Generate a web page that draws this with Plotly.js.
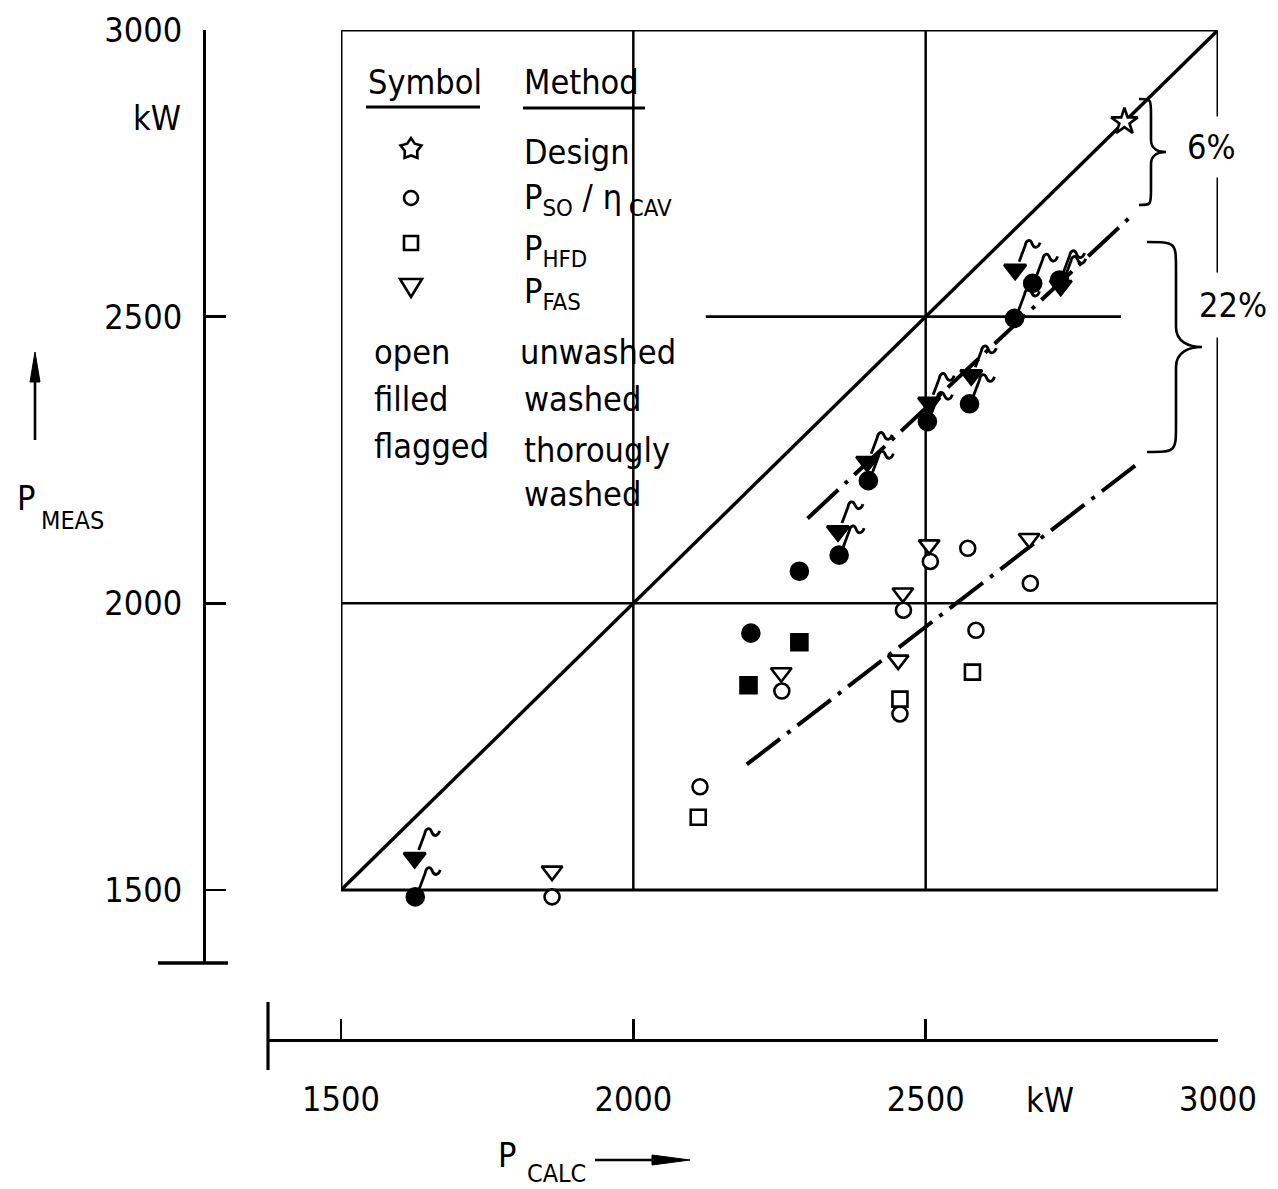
<!DOCTYPE html>
<html><head><meta charset="utf-8">
<script src="https://cdn.plot.ly/plotly-3.0.1.min.js"></script>
<style>html,body{margin:0;padding:0;background:#fff}</style>
</head><body><div id="chart" style="width:1278px;height:1189px"></div>
<script>
// ---------- data (kW) ----------
const designX = [2840], designY = [2840];
const unwashedCircleX = [1861, 2114, 2254, 2456, 2462, 2508, 2572, 2586, 2679];
const unwashedCircleY = [1488, 1680, 1847, 1807, 1988, 2073, 2096, 1953, 2035];
const unwashedSquareX = [2111, 2456, 2580];
const unwashedSquareY = [1627, 1833, 1880];
const unwashedTriX = [1861, 2253, 2453, 2461, 2506, 2677];
const unwashedTriY = [1533, 1879, 1901, 2018, 2102, 2113];
const washedCircleX = [2201, 2284];
const washedCircleY = [1948, 2056];
const washedSquareX = [2197, 2284];
const washedSquareY = [1857, 1932];
const thoroughCircleX = [1627, 2352, 2402, 2503, 2575, 2652, 2683, 2729];
const thoroughCircleY = [1488, 2084, 2214, 2317, 2348, 2497, 2558, 2564];
const thoroughTriX = [1626, 2350, 2400, 2506, 2578, 2653, 2731];
const thoroughTriY = [1556, 2126, 2247, 2350, 2398, 2582, 2554];
const parityX = [1500, 3000], parityY = [1500, 3000];
const washedTrendX = [2298, 2848], washedTrendY = [2148, 2672];
const unwashedTrendX = [2194, 2867], unwashedTrendY = [1719, 2247];
const tickVals = [1500, 2000, 2500, 3000];
const tickText = ['1500', '2000', '2500', '3000'];
const gridX = [2000, 2500];
const gridY = [2000];
const partialGridY = [2500], partialGridFrom = [2124], partialGridTo = [2834];

// ---------- layout helpers ----------
const W = 1278, H = 1189;
const px = v => v / W;
const py = v => 1 - v / H;
const F = 'DejaVu Sans Condensed, DejaVu Sans, sans-serif';
const BLACK = '#000';

const traces = [];
traces.push({x: [], y: [], xaxis: 'x2', yaxis: 'y2', type: 'scatter', hoverinfo: 'skip'});
traces.push({x: parityX, y: parityY, mode: 'lines', line: {color: BLACK, width: 3.4}, hoverinfo: 'skip'});
const dd = '42px,9px,4px,9px';
traces.push({x: washedTrendX, y: washedTrendY, mode: 'lines', line: {color: BLACK, width: 4, dash: dd}});
traces.push({x: unwashedTrendX, y: unwashedTrendY, mode: 'lines', line: {color: BLACK, width: 4, dash: dd}});

function mk(x, y, symbol, size, filled) {
  return {x: x, y: y, mode: 'markers', cliponaxis: false,
    marker: {symbol: symbol, size: size, color: filled ? BLACK : '#fff',
             line: {color: BLACK, width: 2.6}}};
}
traces.push(mk(unwashedCircleX, unwashedCircleY, 'circle', 15, false));
traces.push(mk(unwashedSquareX, unwashedSquareY, 'square', 15, false));
traces.push(mk(unwashedTriX, unwashedTriY, 'triangle-down', 18, false));
traces.push(mk(washedCircleX, washedCircleY, 'circle', 17, true));
traces.push(mk(washedSquareX, washedSquareY, 'square', 16, true));
traces.push(mk(thoroughCircleX, thoroughCircleY, 'circle', 17, true));
traces.push(mk(thoroughTriX, thoroughTriY, 'triangle-down', 19, true));
traces.push(mk(designX, designY, 'star', 20, false));

// ---------- shapes ----------
const shapes = [];
shapes.push({type: 'rect', xref: 'x', yref: 'y', x0: 1500, x1: 3000, y0: 1500, y1: 3000,
  line: {color: BLACK, width: 3}, layer: 'below'});
gridX.forEach(v => shapes.push({type: 'line', xref: 'x', yref: 'y', x0: v, x1: v, y0: 1500, y1: 3000,
  line: {color: BLACK, width: 2.5}, layer: 'below'}));
gridY.forEach(v => shapes.push({type: 'line', xref: 'x', yref: 'y', x0: 1500, x1: 3000, y0: v, y1: v,
  line: {color: BLACK, width: 2.5}, layer: 'below'}));
partialGridY.forEach((v, i) => shapes.push({type: 'line', xref: 'x', yref: 'y', x0: partialGridFrom[i],
  x1: partialGridTo[i], y0: v, y1: v, line: {color: BLACK, width: 2.6}, layer: 'below'}));

// flags for thoroughly washed points
const FLAG = 'M 4,8 L 10,24 C 11,30 15,31 17,26 C 19,21 23,21 25,27';
function flag(x, y) {
  return {type: 'path', xref: 'x', yref: 'y', xsizemode: 'pixel', ysizemode: 'pixel',
    xanchor: x, yanchor: y, path: FLAG, line: {color: BLACK, width: 2.8}};
}
thoroughCircleX.forEach((x, i) => shapes.push(flag(x, thoroughCircleY[i])));
thoroughTriX.forEach((x, i) => shapes.push(flag(x, thoroughTriY[i])));

// axis end caps
shapes.push({type: 'line', xref: 'paper', yref: 'paper', x0: px(268), x1: px(268), y0: py(1002), y1: py(1070),
  line: {color: BLACK, width: 3.2}});
shapes.push({type: 'line', xref: 'paper', yref: 'paper', x0: px(158), x1: px(228), y0: py(963), y1: py(963),
  line: {color: BLACK, width: 3.6}});

// legend underlines
shapes.push({type: 'line', xref: 'paper', yref: 'paper', x0: px(366), x1: px(480), y0: py(107), y1: py(107),
  line: {color: BLACK, width: 3}});
shapes.push({type: 'line', xref: 'paper', yref: 'paper', x0: px(523), x1: px(645), y0: py(108), y1: py(108),
  line: {color: BLACK, width: 3}});

// legend symbols / decorations in pixel units
function pixShape(cx, cy, obj) {
  return Object.assign({xref: 'paper', yref: 'paper', xsizemode: 'pixel', ysizemode: 'pixel',
    xanchor: px(cx), yanchor: py(cy), line: {color: BLACK, width: 2.6}}, obj);
}
function starPath(ro, ri) {
  let p = '';
  for (let k = 0; k < 10; k++) {
    const r = k % 2 ? ri : ro;
    const a = Math.PI / 2 + k * Math.PI / 5;
    p += (k ? ' L ' : 'M ') + (r * Math.cos(a)).toFixed(2) + ',' + (r * Math.sin(a)).toFixed(2);
  }
  return p + ' Z';
}
shapes.push(pixShape(411, 149, {type: 'path', path: starPath(11, 6.5)}));
shapes.push(pixShape(411, 198, {type: 'circle', x0: -7, x1: 7, y0: -7, y1: 7}));
shapes.push(pixShape(411, 243, {type: 'rect', x0: -7, x1: 7, y0: -7, y1: 7}));
shapes.push(pixShape(411, 287, {type: 'path', path: 'M -11,8 L 11,8 L 0,-10 Z'}));

// axis-title arrows (shaft + long narrow filled head)
shapes.push(pixShape(35, 352, {type: 'line', x0: 0, x1: 0, y0: -88, y1: -20, line: {color: BLACK, width: 2.6}}));
shapes.push(pixShape(35, 352, {type: 'path', path: 'M 0,0 L 5,-30 L -5,-30 Z', fillcolor: BLACK,
  line: {color: BLACK, width: 1}}));
shapes.push(pixShape(690, 1160, {type: 'line', x0: -95, x1: -25, y0: 0, y1: 0, line: {color: BLACK, width: 2.6}}));
shapes.push(pixShape(690, 1160, {type: 'path', path: 'M 0,0 L -38,5 L -38,-5 Z', fillcolor: BLACK,
  line: {color: BLACK, width: 1}}));

// braces
function brace(Hh, w1, w2, rc, rt) {
  return `M ${-w2},${Hh} C ${-w1},${Hh} ${-w1},${Hh} ${-w1},${Hh - rc} L ${-w1},${rt} ` +
    `C ${-w1},${rt * 0.25} ${-w1 * 0.5},0 0,0 C ${-w1 * 0.5},0 ${-w1},${-rt * 0.25} ${-w1},${-rt} ` +
    `L ${-w1},${-Hh + rc} C ${-w1},${-Hh} ${-w1},${-Hh} ${-w2},${-Hh}`;
}
shapes.push(pixShape(1166, 152, {type: 'path', path: brace(53, 15, 27, 15, 12)}));
shapes.push(pixShape(1202, 347, {type: 'path', path: brace(105, 26, 55, 28, 20)}));

// ---------- annotations ----------
const ann = [];
function txt(x, y, t, opts) {
  ann.push(Object.assign({xref: 'paper', yref: 'paper', x: px(x), y: py(y), text: t, showarrow: false,
    xanchor: 'left', yanchor: 'middle', font: {family: F, size: 34, color: BLACK}}, opts || {}));
}
txt(366, 82, 'Symbol');
txt(522, 82, 'Method');
txt(522, 152, 'Design');
txt(522, 200, 'P<sub>SO</sub> / η<sub> CAV</sub>');
txt(522, 250, 'P<sub>HFD</sub>');
txt(522, 294, 'P<sub>FAS</sub>');
txt(372, 352, 'open');
txt(518, 352, 'unwashed');
txt(372, 399, 'filled');
txt(522, 399, 'washed');
txt(372, 446, 'flagged');
txt(522, 450, 'thorougly');
txt(522, 494, 'washed');

txt(1211, 147, '6%', {xanchor: 'center', bgcolor: '#fff', borderpad: 10});
txt(1233, 305, '22%', {xanchor: 'center', bgcolor: '#fff', borderpad: 12});

txt(157, 118, 'kW', {xanchor: 'center'});
txt(1050, 1100, 'kW', {xanchor: 'center'});

txt(26, 498, 'P', {xanchor: 'center'});
txt(72, 520, 'MEAS', {xanchor: 'center', font: {family: F, size: 25, color: BLACK}});
txt(507, 1155, 'P', {xanchor: 'center'});
txt(556, 1173, 'CALC', {xanchor: 'center', font: {family: F, size: 25, color: BLACK}});

const tickFont = {family: F, size: 34, color: BLACK};
// main data axes: box spans 1500..3000 on both; y range extends a little below so low points stay visible
const yBottomPx = 890 + 50 * (860 / 1500);
const layout = {
  width: W, height: H, margin: {l: 0, r: 0, t: 0, b: 0},
  paper_bgcolor: '#fff', plot_bgcolor: 'rgba(0,0,0,0)', showlegend: false,
  font: {family: F, size: 34, color: BLACK},
  xaxis: {domain: [px(341), px(1218)], range: [1500, 3000], visible: false, fixedrange: true},
  yaxis: {domain: [py(yBottomPx), py(30)], range: [1450, 3000], visible: false, fixedrange: true},
  xaxis2: {domain: [px(268), px(1218)], range: [1375.1, 3000], anchor: 'free', position: py(1040),
    showline: true, linecolor: BLACK, linewidth: 3.2, ticks: 'inside', ticklen: 20, tickwidth: 2.6,
    tickcolor: BLACK, tickvals: tickVals, ticktext: tickText, showgrid: false, zeroline: false,
    tickfont: tickFont, ticklabelstandoff: 28, fixedrange: true},
  yaxis2: {domain: [py(963), py(30)], range: [1372.7, 3000], anchor: 'free', position: px(204),
    side: 'left', showline: true, linecolor: BLACK, linewidth: 3.2, ticks: 'inside', ticklen: 20,
    tickwidth: 2.6, tickcolor: BLACK, tickvals: tickVals, ticktext: tickText, showgrid: false,
    zeroline: false, tickfont: tickFont, ticklabelstandoff: 14, fixedrange: true},
  shapes: shapes,
  annotations: ann
};
Plotly.newPlot('chart', traces, layout, {staticPlot: true, displayModeBar: false});
</script></body></html>
